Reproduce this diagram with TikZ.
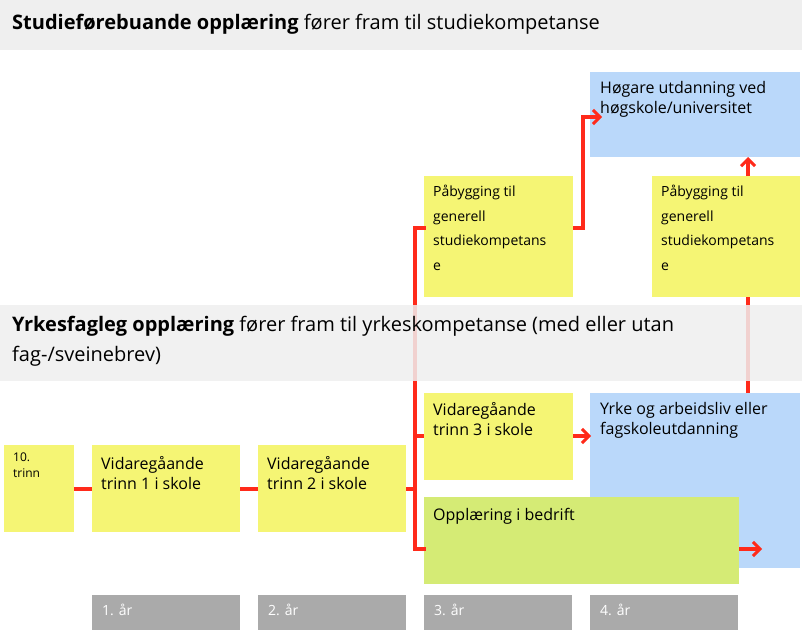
\documentclass[tikz,border=0pt]{standalone}
\usepackage{fontspec}
\setmainfont{Open Sans}
\usetikzlibrary{arrows.meta}
\definecolor{band}{HTML}{EFEFEF}
\definecolor{yel}{HTML}{F5F574}
\definecolor{blu}{HTML}{BAD8FA}
\definecolor{grn}{HTML}{D5EB75}
\definecolor{gry}{HTML}{AAAAAA}
\definecolor{rd}{HTML}{FF2A1A}
\begin{document}
\begin{tikzpicture}[x=1pt,y=-1pt,
  box/.style={inner sep=0pt,outer sep=0pt},
  lbl/.style={anchor=north west,inner sep=0pt,align=left,font=\fontsize{16}{20.5}\selectfont},
  slbl/.style={anchor=north west,inner sep=0pt,align=left,font=\fontsize{14}{24.5}\selectfont},
  yl/.style={anchor=north west,inner sep=0pt,text=white,font=\fontsize{14}{17}\selectfont},
  con/.style={draw=rd,line width=4pt},
  arr/.style={con,-{Straight Barb[length=7pt,width=14pt,line width=3pt]}}]
\useasboundingbox (0,0) rectangle (802,635);
% boxes
\fill[band] (0,0) rectangle (802,50);
\node[lbl,font=\fontsize{20}{24}\selectfont] (t1) at (12,14) {\textbf{Studieførebuande opplæring} fører fram til studiekompetanse};
\fill[blu] (590,72) rectangle (800,157);
\coordinate (hb) at (748,157);
\node[lbl] (h) at (600,81) {Høgare utdanning ved\\høgskole/universitet};
\fill[yel] (424,176) rectangle (573,297);
\node[slbl] (p1) at (433,185) {Påbygging til\\generell\\studiekompetans\\e};
\fill[yel] (652,176) rectangle (800,297);
\node[slbl] (p2) at (661,185) {Påbygging til\\generell\\studiekompetans\\e};
\fill[yel] (4,445) rectangle (74,532);
\node[anchor=north west,inner sep=0pt,align=left,font=\fontsize{12}{16}\selectfont] (t10) at (13,453) {10.\\trinn};
\fill[yel] (92,445) rectangle (240,532);
\node[lbl] (v1) at (101,456) {Vidaregåande\\trinn 1 i skole};
\fill[yel] (258,445) rectangle (406,532);
\node[lbl] (v2) at (267,456) {Vidaregåande\\trinn 2 i skole};
\fill[yel] (424,393) rectangle (573,480);
\node[lbl] (v3) at (433,402) {Vidaregåande\\trinn 3 i skole};
\fill[blu] (590,393) rectangle (800,568);
\node[lbl] (yk) at (600,402) {Yrke og arbeidsliv eller\\fagskoleutdanning};
\fill[grn] (424,497) rectangle (739,584);
\node[lbl] (gb) at (433,508) {Opplæring i bedrift};
\foreach \x/\t in {92/1,258/2,424/3,590/4}{
  \fill[gry] (\x,595) rectangle ++(148,35);
  \node[yl] (y\t) at (\x+10,604) {\t. år};}
% connectors
\coordinate (a0) at (74,489); \coordinate (a1) at (92,489);
\coordinate (b0) at (240,489); \coordinate (b1) at (258,489);
\coordinate (c0) at (406,489); \coordinate (c1) at (415,489);
\coordinate (tp) at (415,228); \coordinate (bt) at (415,549);
\coordinate (p1l) at (424,228); \coordinate (v3l) at (424,436); \coordinate (gl) at (424,549);
\coordinate (p1r) at (573,228); \coordinate (hin) at (602,117);
\coordinate (v3r) at (573,436); \coordinate (ykl) at (591,436);
\coordinate (gr) at (739,549); \coordinate (ge) at (762,549);
\coordinate (ykt) at (748,393); \coordinate (p2b) at (748,297); \coordinate (p2t) at (748,176);
\draw[con] (a0)--(a1); \draw[con] (b0)--(b1); \draw[con] (c0)--(c1);
\draw[con,line cap=rect] (p1l)--(tp)--(bt)--(gl);
\draw[con] (415,436)--(v3l);
\draw[arr] (p1r)--(583,228)--(583,117)--(hin);
\draw[arr] (v3r)--(ykl);
\draw[arr] (gr)--(ge);
\draw[con] (ykt)--(p2b);
\draw[arr] (p2t)--(hb);
% band 2 over lines
\fill[band,opacity=0.85] (0,305) rectangle (802,381);
\node[lbl,font=\fontsize{20}{30}\selectfont] (t2) at (12,316) {\textbf{Yrkesfagleg opplæring} fører fram til yrkeskompetanse (med eller utan\\fag-/sveinebrev)};
\end{tikzpicture}
\end{document}
